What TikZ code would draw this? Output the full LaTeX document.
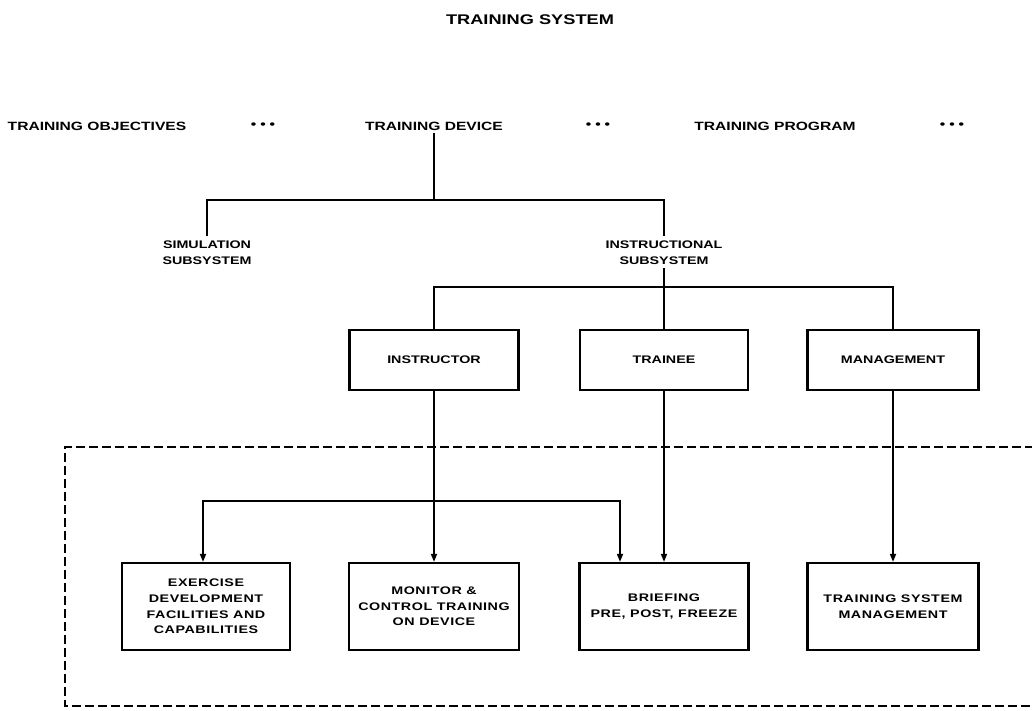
\documentclass[tikz,border=0pt]{standalone}
\usepackage{fontspec}
\setmainfont{Liberation Sans}
\newfontfamily\labfont{Liberation Sans}[FakeStretch=1.3]
\newfontfamily\taskfont{Liberation Sans}[FakeStretch=1.3,LetterSpace=5]
\usetikzlibrary{arrows.meta}
\tikzset{
  ttl/.style={font=\labfont\bfseries\fontsize{14}{16}\selectfont, inner sep=0pt},
  toplbl/.style={font=\labfont\bfseries\fontsize{12}{14}\selectfont, inner sep=0pt},
  lbl/.style={font=\labfont\bfseries\fontsize{11}{16}\selectfont, inner sep=0pt, align=center},
  rolebox/.style={draw, line width=2.2pt, minimum height=60pt, inner sep=0pt,
    font=\labfont\bfseries\fontsize{11}{14}\selectfont},
  taskbox/.style={draw, line width=2.2pt, minimum height=87pt, inner sep=0pt, align=center,
    font=\taskfont\bfseries\fontsize{11}{15.7}\selectfont},
  conn/.style={line width=1.6pt},
  arr/.style={conn, -{Triangle[length=8pt,width=6pt]}},
  dashbox/.style={line width=2.4pt, dash pattern=on 9pt off 4pt}
}
\newcommand{\tridots}{\textbullet\hspace{4pt}\textbullet\hspace{4pt}\textbullet}
\begin{document}
\begin{tikzpicture}[x=1pt,y=-1pt]
\useasboundingbox (0,0) rectangle (1032,711);
% title
\node[ttl] (title) at (530,20) {TRAINING SYSTEM};
% top row
\node[toplbl] (obj) at (97,126) {TRAINING OBJECTIVES};
\node[toplbl] (d1) at (263,126) {\tridots};
\node[toplbl] (dev) at (434,126) {TRAINING DEVICE};
\node[toplbl] (d2) at (598,126) {\tridots};
\node[toplbl] (prog) at (775,126) {TRAINING PROGRAM};
\node[toplbl] (d3) at (952,126) {\tridots};
% subsystems
\node[lbl] (sim) at (207,253) {SIMULATION\\SUBSYSTEM};
\node[lbl] (ins) at (664,253) {INSTRUCTIONAL\\SUBSYSTEM};
% role boxes
\node[rolebox, minimum width=169pt] (instr) at (434,360) {INSTRUCTOR};
\node[rolebox, minimum width=168pt] (trainee) at (664,360) {TRAINEE};
\node[rolebox, minimum width=171pt] (mgmt) at (893,360) {MANAGEMENT};
% task boxes
\node[taskbox, minimum width=168pt] (ex) at (206,606.5) {EXERCISE\\DEVELOPMENT\\FACILITIES AND\\CAPABILITIES};
\node[taskbox, minimum width=170pt] (mon) at (434,606.5) {MONITOR \&\\CONTROL TRAINING\\ON DEVICE};
\node[taskbox, minimum width=169pt] (brief) at (664,606.5) {BRIEFING\\PRE, POST, FREEZE};
\node[taskbox, minimum width=171pt] (tsm) at (893,606.5) {TRAINING SYSTEM\\MANAGEMENT};
% bus coordinates
\coordinate (bus1) at (0,200);
\coordinate (bus2) at (0,287);
\coordinate (bus3) at (0,501);
% upper tree
\draw[conn] ([yshift=-3pt]dev.south) -- (dev.south |- bus1);
\draw[conn] ([yshift=5pt]sim.north) -- (sim.north |- bus1) -- (ins.north |- bus1) -- ([yshift=5pt]ins.north);
\draw[conn] ([yshift=-3pt]ins.south) -- (trainee.north);
\draw[conn] (instr.north) -- (instr.north |- bus2) -- (mgmt.north |- bus2) -- (mgmt.north);
% lower connections
\draw[arr] (instr.south) -- (mon.north);
\draw[arr] (instr.south |- bus3) -| ([xshift=-3pt]ex.north);
\draw[arr] (instr.south |- bus3) -| ([xshift=-44pt]brief.north);
\draw[arr] (trainee.south) -- (brief.north);
\draw[arr] (mgmt.south) -- (tsm.north);
% dashed region (open to the right)
\coordinate (dA) at (1034,447);
\coordinate (dB) at (65,447);
\coordinate (dC) at (65,706);
\coordinate (dD) at (1034,706);
\draw[dashbox] (dA) -- (dB) -- (dC) -- (dD);
\end{tikzpicture}
\end{document}
